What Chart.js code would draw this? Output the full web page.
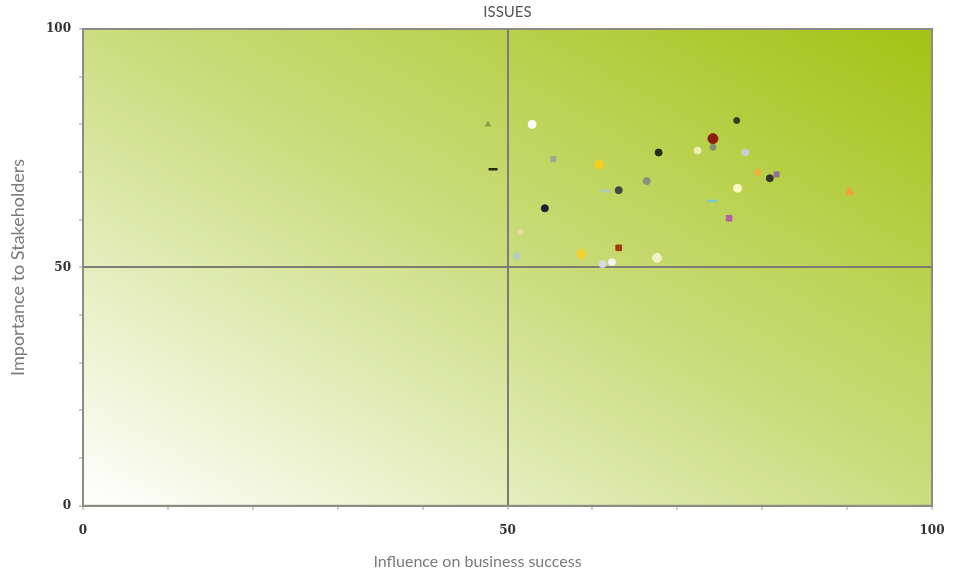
<!DOCTYPE html>
<html>
<head>
<meta charset="utf-8">
<script src="https://cdn.jsdelivr.net/npm/chart.js@4"></script>
<style>
  html, body { margin: 0; padding: 0; background: #fff; }
  #wrap { width: 955px; height: 573px; }
</style>
</head>
<body>
<div id="wrap"><canvas id="chart"></canvas></div>
<script>
// issues: influence (x) vs importance (y)
const influence = [47.7, 52.9, 48.3, 55.4, 54.4, 60.8, 67.8, 66.4, 63.1, 61.5, 58.7, 63.1, 61.2, 62.3, 67.6,
                   77.0, 74.2, 74.2, 72.4, 78.0, 79.5, 80.9, 81.7, 77.1, 74.1, 76.1, 90.3, 51.1, 51.5];
const importance = [80.0, 80.0, 70.6, 72.7, 62.4, 71.6, 74.1, 68.1, 66.2, 66.0, 52.8, 54.1, 50.7, 51.1, 52.0,
                    80.8, 77.0, 75.2, 74.5, 74.1, 69.9, 68.7, 69.5, 66.6, 63.9, 60.3, 65.8, 52.4, 57.4];
const xTicks = [0, 50, 100];
const yTicks = [0, 50, 100];

// marker styling, one entry per issue
const markerColors = ['#8a9a48', '#fafaf0', '#2a2a10', '#a0a890', '#1e1e30', '#f2d020', '#1e2e10', '#8c9080',
                      '#404838', '#a8ccc0', '#f2d232', '#a03c0c', '#d8d8e8', '#f4f4f4', '#f2f2c8',
                      '#304020', '#8c2010', '#809070', '#eeeeb0', '#c8d0c8', '#f0b040', '#303828', '#907090',
                      '#f8f8c0', '#80c8d0', '#b060a0', '#f0a040', '#b0d0c0', '#e0dc98'];
const markerShapes = ['triangle', 'circle', 'line', 'rect', 'circle', 'circle', 'circle', 'circle',
                      'circle', 'line', 'circle', 'rect', 'circle', 'circle', 'circle',
                      'circle', 'circle', 'circle', 'circle', 'circle', 'rectRot', 'circle', 'rect',
                      'circle', 'line', 'rect', 'triangle', 'circle', 'circle'];
const markerSizes = [3, 4, 4.5, 3.5, 3.5, 4.5, 3.5, 3.5, 3.5, 4.5, 4.5, 4, 3.5, 3.5, 4.5,
                     3, 5, 3, 3.5, 3.5, 4, 3.5, 3.5, 4, 5, 4, 5, 3.5, 3];

const points = influence.map((x, i) => ({ x: x, y: importance[i] }));

const backdrop = {
    id: 'backdrop',
    beforeDraw(chart) {
        const { ctx, chartArea: a } = chart;
        const w = a.right - a.left, h = a.bottom - a.top;
        ctx.save();
        ctx.translate(a.left, a.top);
        ctx.scale(w, h);
        const g = ctx.createLinearGradient(0, 1, 1, 0);
        g.addColorStop(0, '#ffffff');
        g.addColorStop(0.5, '#ccdd80');
        g.addColorStop(1, '#a4c214');
        ctx.fillStyle = g;
        ctx.fillRect(0, 0, 1, 1);
        ctx.restore();
        ctx.save();
        ctx.strokeStyle = '#8c8c84';
        ctx.lineWidth = 2;
        ctx.strokeRect(a.left, a.top, w, h);
        ctx.restore();
    }
};

const midLine = (c) => c.tick && c.tick.value === 50 ? '#7c7c74' : 'rgba(0,0,0,0)';

new Chart(document.getElementById('chart'), {
    type: 'scatter',
    data: {
        datasets: [{
            label: 'Issues',
            data: points,
            pointStyle: markerShapes,
            backgroundColor: markerColors,
            borderColor: markerColors,
            borderWidth: markerShapes.map(s => s === 'line' ? 2.5 : 1),
            pointRadius: markerSizes,
            pointHoverRadius: markerSizes
        }]
    },
    options: {
        responsive: true,
        maintainAspectRatio: false,
        animation: false,
        layout: { padding: 0 },
        plugins: {
            legend: { display: false },
            tooltip: { enabled: false },
            subtitle: {
                display: true,
                position: 'bottom',
                text: 'Influence on business success',
                color: '#7a7a7a',
                font: { family: 'Lato', size: 16, weight: 'normal' },
                padding: { top: 0, bottom: 2 }
            }
        },
        scales: {
            x: {
                type: 'linear',
                min: 0, max: 100,
                afterFit: (s) => { s.height = 46; s.paddingLeft = 0; s.paddingRight = 23; },
                border: { display: true, color: '#8c8c84', width: 2 },
                grid: { color: midLine, lineWidth: 2, tickColor: '#9a9a94', tickLength: 4, tickWidth: 1 },
                ticks: {
                    stepSize: 10,
                    padding: 14,
                    color: '#333',
                    maxRotation: 0,
                    font: { family: 'DejaVu Serif', size: 12, weight: 'bold' },
                    callback: (v) => xTicks.includes(v) ? v : ''
                }
            },
            xTop: {
                type: 'linear',
                position: 'top',
                min: 0, max: 100,
                afterFit: (s) => { s.height = 29; s.paddingLeft = 0; s.paddingRight = 23; },
                border: { display: false },
                grid: { display: false },
                ticks: { display: false },
                title: {
                    display: true,
                    text: 'ISSUES',
                    color: '#555',
                    font: { family: 'Lato', size: 15 },
                    padding: { top: 3, bottom: 0 }
                }
            },
            y: {
                type: 'linear',
                min: 0, max: 100,
                afterFit: (s) => { s.width = 83; },
                border: { display: true, color: '#8c8c84', width: 2 },
                grid: { color: midLine, lineWidth: 2, tickColor: '#9a9a94', tickLength: 4, tickWidth: 1 },
                ticks: {
                    stepSize: 10,
                    padding: 8,
                    color: '#333',
                    font: { family: 'DejaVu Serif', size: 12, weight: 'bold' },
                    callback: (v) => yTicks.includes(v) ? v : ''
                },
                title: {
                    display: true,
                    text: 'Importance to Stakeholders',
                    color: '#7a7a7a',
                    font: { family: 'Lato', size: 18 },
                    padding: { top: 7, bottom: 0 }
                }
            }
        }
    },
    plugins: [backdrop]
});
</script>
</body>
</html>
